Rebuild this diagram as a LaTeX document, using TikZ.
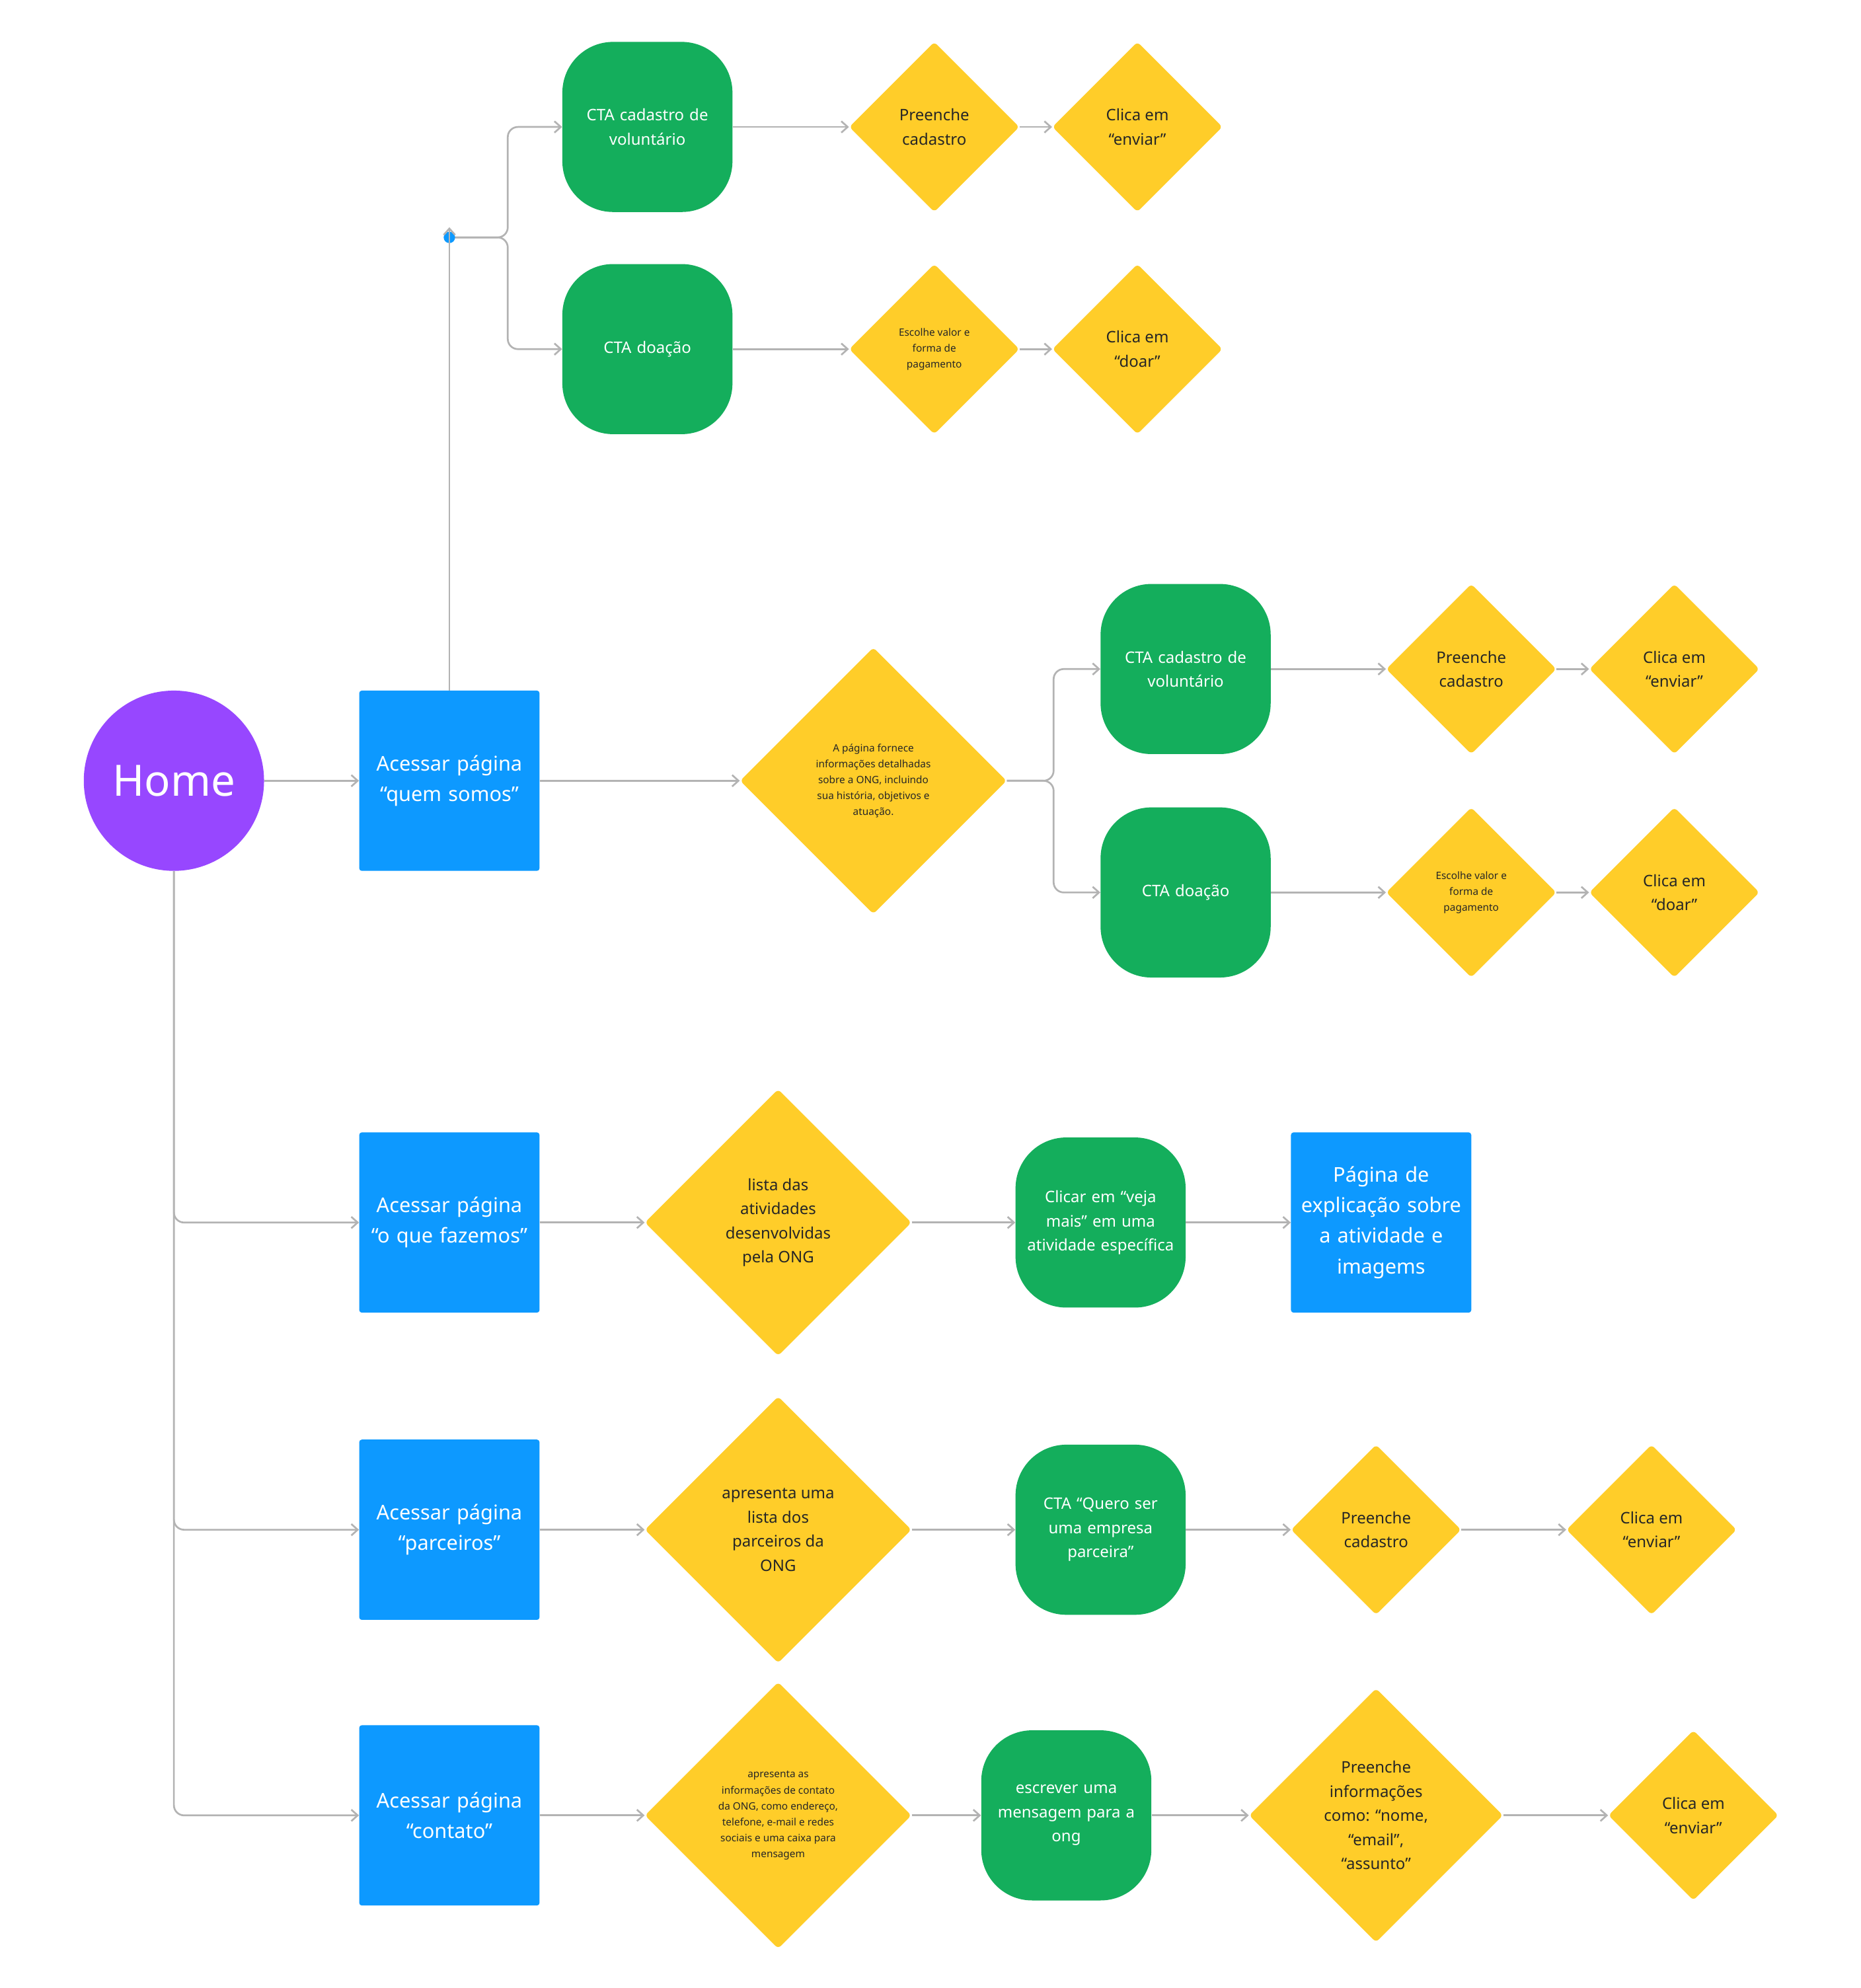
\documentclass[tikz,border=0pt]{standalone}
\usepackage{fontspec}
\setmainfont{Noto Sans}
\usetikzlibrary{shapes.geometric,arrows.meta}
\definecolor{gr}{HTML}{14AE5C}
\definecolor{bl}{HTML}{0D99FF}
\definecolor{ye}{HTML}{FFCD29}
\definecolor{pu}{HTML}{9747FF}
\definecolor{ln}{HTML}{B3B3B3}
\begin{document}
\begin{tikzpicture}[x=1pt,y=-1pt,
 page/.style={fill=bl,minimum size=142pt,inner sep=0,rounded corners=2pt,text=white,font=\fontsize{16}{24}\selectfont,align=center,text width=130pt},
 cta/.style={fill=gr,minimum size=134pt,inner sep=0,rounded corners=40pt,text=white,font=\fontsize{12.5}{19}\selectfont,align=center,text width=120pt},
 dia/.style={diamond,fill=ye,minimum width=#1,minimum height=#1,inner sep=0,rounded corners=3pt},
 dt/.style={align=center,font=\fontsize{12.5}{19}\selectfont,text=black!85},
 tiny/.style={align=center,font=\fontsize{8}{12.5}\selectfont,text=black!85},
 con/.style={draw=ln,line width=1.4pt,-{Straight Barb[length=5pt,width=9pt]},rounded corners=8pt}]
\useasboundingbox (0,0) rectangle (1466,1566);
% nodes
\node[circle,fill=pu,minimum size=142pt,text=white,font=\fontsize{34}{40}\selectfont] (home) at (137,615) {Home};
\node[page] (p1) at (354,615) {Acessar página\\“quem somos”};
\node[page] (p2) at (354,963) {Acessar página\\“o que fazemos”};
\node[page] (p3) at (354,1205) {Acessar página\\“parceiros”};
\node[page] (p4) at (354,1430) {Acessar página\\“contato”};
\node[page] (p5) at (1088,963) {Página de\\explicação sobre\\a atividade e\\imagems};
\node[cta] (c1) at (510,100) {CTA cadastro de\\voluntário};
\node[cta] (c2) at (510,275) {CTA doação};
\node[cta] (c3) at (934,527) {CTA cadastro de\\voluntário};
\node[cta] (c4) at (934,703) {CTA doação};
\node[cta] (c5) at (867,963) {Clicar em “veja\\mais” em uma\\atividade específica};
\node[cta] (c6) at (867,1205) {CTA “Quero ser\\uma empresa\\parceira”};
\node[cta] (c7) at (840,1430) {escrever uma\\mensagem para a\\ong};
% small diamonds
\node[dia=134pt] (d1) at (736,100) {}; \node[dt] (t1) at (d1) {Preenche\\cadastro};
\node[dia=134pt] (d2) at (896,100) {}; \node[dt] (t2) at (d2) {Clica em\\“enviar”};
\node[dia=134pt] (d3) at (736,275) {}; \node[tiny] (t3) at (d3) {Escolhe valor e\\forma de\\pagamento};
\node[dia=134pt] (d4) at (896,275) {}; \node[dt] (t4) at (d4) {Clica em\\“doar”};
\node[dia=134pt] (d5) at (1159,527) {}; \node[dt] (t5) at (d5) {Preenche\\cadastro};
\node[dia=134pt] (d6) at (1319,527) {}; \node[dt] (t6) at (d6) {Clica em\\“enviar”};
\node[dia=134pt] (d7) at (1159,703) {}; \node[tiny] (t7) at (d7) {Escolhe valor e\\forma de\\pagamento};
\node[dia=134pt] (d8) at (1319,703) {}; \node[dt] (t8) at (d8) {Clica em\\“doar”};
\node[dia=134pt] (d9) at (1084,1205) {}; \node[dt] (t9) at (d9) {Preenche\\cadastro};
\node[dia=134pt] (d10) at (1301,1205) {}; \node[dt] (t10) at (d10) {Clica em\\“enviar”};
\node[dia=134pt] (d11) at (1334,1430) {}; \node[dt] (t11) at (d11) {Clica em\\“enviar”};
% large diamonds
\node[dia=210pt] (D1) at (688,615) {}; \node[tiny] (T1) at (D1) {A página fornece\\informações detalhadas\\sobre a ONG, incluindo\\sua história, objetivos e\\atuação.};
\node[dia=210pt] (D2) at (613,963) {}; \node[dt] (T2) at (D2) {lista das\\atividades\\desenvolvidas\\pela ONG};
\node[dia=210pt] (D3) at (613,1205) {}; \node[dt] (T3) at (D3) {apresenta uma\\lista dos\\parceiros da\\ONG};
\node[dia=210pt] (D4) at (613,1430) {}; \node[tiny] (T4) at (D4) {apresenta as\\informações de contato\\da ONG, como endereço,\\telefone, e-mail e redes\\sociais e uma caixa para\\mensagem};
\node[dia=200pt] (D5) at (1084,1430) {}; \node[dt] (T5) at (D5) {Preenche\\informações\\como: “nome,\\“email”,\\“assunto”};
% connectors
\coordinate (j) at (354,187);
\draw[con] (j) -- (400,187) |- (c1.west);
\draw[con] (j) -- (400,187) |- (c2.west);
\fill[bl] (j) circle (4.5pt);
\draw[con] (p1.north) -- ([yshift=8pt]j);
\draw[con] (c1) -- (d1); \draw[con] (d1) -- (d2);
\draw[con] (c2) -- (d3); \draw[con] (d3) -- (d4);
\draw[con] (home) -- (p1);
\draw[con] (p1) -- (D1);
\draw[con] (D1.east) -- (830,615) |- (c3.west);
\draw[con] (D1.east) -- (830,615) |- (c4.west);
\draw[con] (c3) -- (d5); \draw[con] (d5) -- (d6);
\draw[con] (c4) -- (d7); \draw[con] (d7) -- (d8);
\draw[con] (home.south) |- (p2.west);
\draw[con] (home.south) |- (p3.west);
\draw[con] (home.south) |- (p4.west);
\draw[con] (p2) -- (D2); \draw[con] (D2) -- (c5); \draw[con] (c5) -- (p5);
\draw[con] (p3) -- (D3); \draw[con] (D3) -- (c6); \draw[con] (c6) -- (d9); \draw[con] (d9) -- (d10);
\draw[con] (p4) -- (D4); \draw[con] (D4) -- (c7); \draw[con] (c7) -- (D5); \draw[con] (D5) -- (d11);
\end{tikzpicture}
\end{document}
